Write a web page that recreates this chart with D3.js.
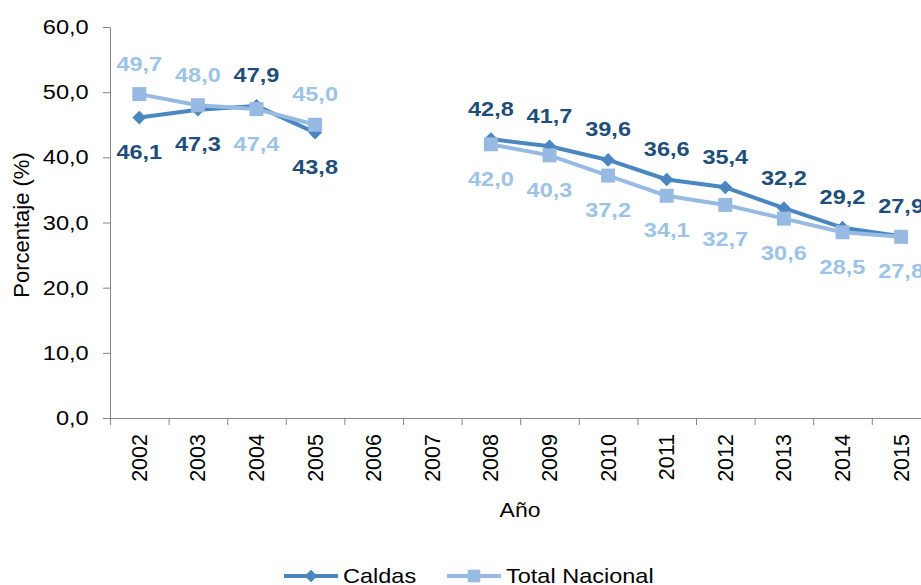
<!DOCTYPE html>
<html lang="es">
<head>
<meta charset="UTF-8">
<script src="https://d3js.org/d3.v7.min.js"></script>
<style>
  body { margin: 0; background: #fff; font-family: "Liberation Sans", Arial, sans-serif; }
  svg { display: block; }
  .axis path, .axis line { stroke: #868686; }
  .axis text { fill: #000; font-family: "Liberation Sans", Arial, sans-serif; }
</style>
</head>
<body>
<svg id="chart"></svg>
<script>
// data
const years = ["2002","2003","2004","2005","2006","2007","2008","2009","2010","2011","2012","2013","2014","2015"];
const caldas = [46.1, 47.3, 47.9, 43.8, null, null, 42.8, 41.7, 39.6, 36.6, 35.4, 32.2, 29.2, 27.9];
const totalNacional = [49.7, 48.0, 47.4, 45.0, null, null, 42.0, 40.3, 37.2, 34.1, 32.7, 30.6, 28.5, 27.8];
const yTicks = [0, 10, 20, 30, 40, 50, 60];
const seriesNames = ["Caldas", "Total Nacional"];

const W = 921, H = 585;
const stretch = 1.12;   // text in the picture looks a bit wide
const fmt = v => d3.format(".1f")(v).replace(".", ",");

const svg = d3.select("#chart").attr("width", W).attr("height", H);

const x = d3.scaleBand().domain(years).range([110, 110 + 58.6 * years.length]);
const y = d3.scaleLinear().domain([0, 60]).range([418, 27]);

// y axis
const yAxis = svg.append("g")
  .attr("class", "axis")
  .attr("transform", "translate(110,0)")
  .call(d3.axisLeft(y).tickValues(yTicks).tickSize(7).tickSizeOuter(0).tickFormat(fmt));
yAxis.selectAll("text")
  .attr("x", -18.5)
  .attr("font-size", 20.5)
  .attr("transform", "scale(1.15,1)");

// x axis: labels at band centres, ticks at band edges
const xAxis = svg.append("g")
  .attr("class", "axis")
  .attr("transform", "translate(0,418)")
  .call(d3.axisBottom(x).tickSize(0).tickSizeOuter(0));
xAxis.select(".domain").attr("d", `M110,0.5H${W}`);
xAxis.selectAll(".tick text")
  .attr("font-size", 21.5)
  .attr("transform", "rotate(-90)")
  .attr("text-anchor", "end")
  .attr("x", -16)
  .attr("y", 0)
  .attr("dy", "0.35em");
xAxis.selectAll(".edge")
  .data(years)
  .enter().append("line")
  .attr("x1", d => x(d) + 0.5).attr("x2", d => x(d) + 0.5)
  .attr("y1", 0).attr("y2", 7)
  .attr("stroke", "#868686");

// axis titles
svg.append("text")
  .attr("transform", "translate(29,225) rotate(-90)")
  .attr("text-anchor", "middle")
  .attr("font-size", 22)
  .text("Porcentaje (%)");
svg.append("text")
  .attr("transform", "translate(520,517) scale(" + stretch + ",1)")
  .attr("text-anchor", "middle")
  .attr("font-size", 20.5)
  .text("Año");

const line = d3.line()
  .defined(d => d.v !== null)
  .x(d => x(d.year) + x.bandwidth() / 2)
  .y(d => y(d.v));

const series = [
  { name: seriesNames[0], values: caldas, other: totalNacional, lineColor: "#4A86BF", labelColor: "#1F4E79", marker: d3.symbolDiamond2 },
  { name: seriesNames[1], values: totalNacional, other: caldas, lineColor: "#97BAE2", labelColor: "#9DC3E6", marker: d3.symbolSquare }
];

series.forEach(s => {
  const pts = years.map((yr, i) => ({ year: yr, v: s.values[i], o: s.other[i] }));
  svg.append("path")
    .datum(pts)
    .attr("fill", "none")
    .attr("stroke", s.lineColor)
    .attr("stroke-width", 4)
    .attr("stroke-linejoin", "round")
    .attr("d", line);
  const size = s.marker === d3.symbolSquare ? 196 : 120;
  svg.selectAll(null)
    .data(pts.filter(d => d.v !== null))
    .enter().append("path")
    .attr("d", d3.symbol().type(s.marker).size(size))
    .attr("fill", s.lineColor)
    .attr("transform", d => `translate(${x(d.year) + x.bandwidth() / 2},${y(d.v)})`);
  s.pts = pts;
});

// data labels: the higher value goes above, the lower below
series.forEach(s => {
  svg.selectAll(null)
    .data(s.pts.filter(d => d.v !== null))
    .enter().append("text")
    .attr("transform", d => {
      const px = x(d.year) + x.bandwidth() / 2;
      const py = d.v >= d.o ? y(d.v) - 23.5 : y(d.v) + 41.5;
      return `translate(${px},${py}) scale(${stretch},1)`;
    })
    .attr("text-anchor", "middle")
    .attr("font-size", 21)
    .attr("font-weight", "bold")
    .attr("fill", s.labelColor)
    .text(d => fmt(d.v));
});

// legend
const legendX = [284, 447];
series.forEach((s, i) => {
  const g = svg.append("g").attr("transform", `translate(${legendX[i]},576)`);
  g.append("line").attr("x1", 0).attr("x2", 54).attr("y1", 0).attr("y2", 0)
    .attr("stroke", s.lineColor).attr("stroke-width", 4);
  g.append("path")
    .attr("d", d3.symbol().type(s.marker).size(s.marker === d3.symbolSquare ? 160 : 100))
    .attr("fill", s.lineColor)
    .attr("transform", "translate(27,0)");
  g.append("text")
    .attr("transform", `translate(59,7) scale(${stretch},1)`)
    .attr("font-size", 21)
    .attr("fill", "#000")
    .text(s.name);
});
</script>
</body>
</html>
